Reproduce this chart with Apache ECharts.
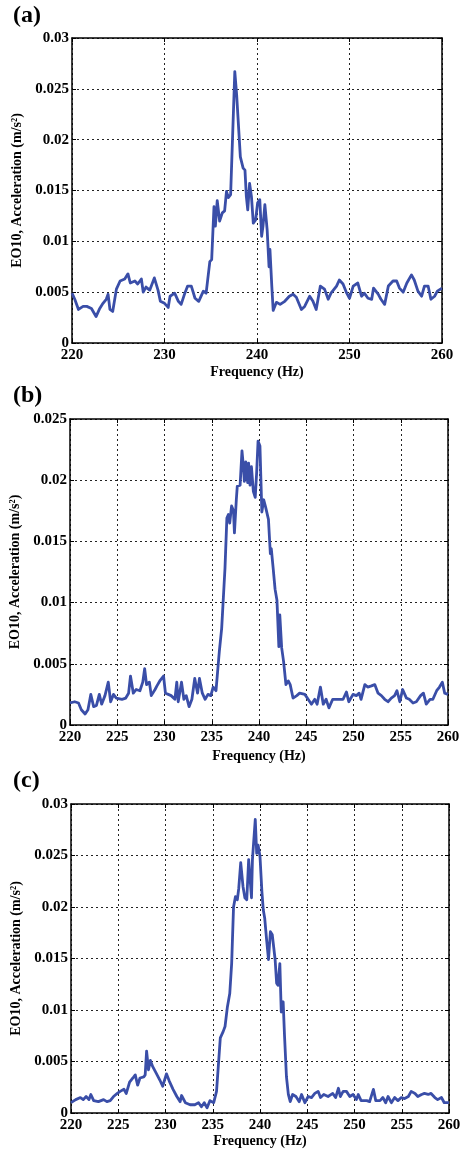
<!DOCTYPE html>
<html>
<head>
<meta charset="utf-8">
<script src="https://cdn.jsdelivr.net/npm/echarts@6/dist/echarts.min.js"></script>
<style>
html,body{margin:0;padding:0;background:#fff;}
#chart{width:465px;height:1153px;}
</style>
</head>
<body>
<div id="chart"></div>
<script>
// ---- Data ----
var freqA = [220.0,220.3,220.7,221.2,221.6,222.1,222.6,223.0,223.35,223.7,223.9,224.1,224.4,224.8,225.2,225.7,226.05,226.3,226.8,227.1,227.5,227.7,228.0,228.4,228.9,229.3,229.55,230.0,230.4,230.6,231.1,231.5,231.8,232.2,232.5,232.9,233.3,233.7,234.2,234.5,234.9,235.1,235.35,235.5,235.7,235.96,236.25,236.5,236.7,236.9,237.15,237.35,237.6,237.8,238.0,238.2,238.5,238.7,238.85,239.0,239.2,239.4,239.6,239.85,240.07,240.3,240.5,240.65,240.85,241.1,241.3,241.4,241.6,241.75,242.1,242.5,243.0,243.5,243.9,244.25,244.8,245.15,245.7,246.05,246.4,246.85,247.3,247.7,248.0,248.6,248.9,249.3,249.7,250.0,250.4,250.9,251.3,251.6,252.0,252.4,252.6,253.1,253.4,253.8,254.2,254.7,255.1,255.4,255.8,256.2,256.7,257.0,257.4,257.8,258.1,258.5,258.8,259.2,259.5,260.0];
var accA = [0.0049,0.0043,0.0033,0.0036,0.0036,0.0034,0.0026,0.0034,0.0039,0.0043,0.0048,0.0033,0.0031,0.0053,0.0061,0.0063,0.0068,0.0059,0.0061,0.0058,0.0063,0.0050,0.0055,0.0052,0.0064,0.0052,0.0041,0.0039,0.0035,0.0046,0.0049,0.0041,0.0038,0.0049,0.0056,0.0056,0.0044,0.0041,0.0051,0.0049,0.0080,0.0082,0.0134,0.0115,0.0140,0.0120,0.0128,0.0130,0.0149,0.0143,0.0146,0.0200,0.0267,0.0244,0.0245,0.0183,0.0172,0.0170,0.0144,0.0131,0.0157,0.0144,0.0118,0.0121,0.0138,0.0141,0.0105,0.0115,0.0136,0.0111,0.0075,0.0092,0.0056,0.0032,0.0040,0.0038,0.0041,0.0046,0.0048,0.0045,0.0033,0.0036,0.0046,0.0041,0.0033,0.0056,0.0053,0.0043,0.0049,0.0056,0.0062,0.0058,0.0049,0.0044,0.0056,0.0059,0.0046,0.0049,0.0044,0.0043,0.0054,0.0048,0.0043,0.0038,0.0056,0.0061,0.0061,0.0054,0.0050,0.0059,0.0067,0.0062,0.0051,0.0046,0.0056,0.0056,0.0043,0.0046,0.0051,0.0054];

var freqB = [220.0,220.5,220.9,221.2,221.6,221.9,222.2,222.5,222.8,223.1,223.35,223.7,224.05,224.3,224.6,224.9,225.5,225.9,226.2,226.4,226.7,227.0,227.4,227.7,227.9,228.1,228.4,228.6,229.0,229.2,229.5,229.9,230.1,230.4,230.7,231.1,231.3,231.45,231.8,232.05,232.3,232.6,232.9,233.2,233.5,233.7,234.0,234.3,234.6,234.9,235.15,235.45,235.8,236.05,236.3,236.4,236.6,236.76,236.9,237.1,237.3,237.4,237.6,237.7,238.0,238.2,238.35,238.45,238.6,238.8,238.9,239.05,239.2,239.4,239.6,239.75,239.9,240.1,240.3,240.5,240.7,241.0,241.2,241.3,241.5,241.7,241.9,242.1,242.2,242.4,242.6,242.85,243.1,243.3,243.6,244.0,244.3,244.85,245.2,245.55,245.9,246.15,246.5,246.8,247.1,247.4,247.8,248.4,248.9,249.25,249.5,249.95,250.3,250.6,250.8,251.2,251.5,251.9,252.25,252.6,252.95,253.3,253.65,254.0,254.35,254.6,254.9,255.2,255.6,255.9,256.3,256.65,257.1,257.4,257.7,258.1,258.4,258.8,259.1,259.4,259.65,260.0];
var accB = [0.0018,0.0019,0.0018,0.00125,0.0009,0.00125,0.0025,0.0015,0.0016,0.0025,0.0017,0.0024,0.0035,0.0019,0.0025,0.0022,0.0021,0.0022,0.0026,0.0040,0.0026,0.0029,0.0028,0.0035,0.0046,0.0033,0.0035,0.0024,0.0029,0.0032,0.0036,0.0040,0.0026,0.0025,0.0024,0.0021,0.0035,0.0019,0.0035,0.0021,0.0024,0.0015,0.0021,0.0038,0.0026,0.0038,0.0026,0.0021,0.0025,0.0024,0.0031,0.0028,0.0060,0.0079,0.0114,0.0128,0.0169,0.0172,0.0165,0.0179,0.0175,0.0157,0.0184,0.0195,0.0196,0.0224,0.0211,0.0199,0.0215,0.0198,0.0214,0.0196,0.0211,0.0191,0.0186,0.0206,0.0232,0.0228,0.0174,0.0184,0.0178,0.0168,0.0140,0.0144,0.0128,0.0111,0.0102,0.0064,0.0090,0.0063,0.0052,0.0033,0.0036,0.0033,0.0022,0.0024,0.0026,0.0025,0.0021,0.0017,0.0021,0.0017,0.0031,0.0017,0.0021,0.0014,0.0021,0.0021,0.0021,0.0027,0.0019,0.0025,0.0024,0.0026,0.0021,0.0033,0.0031,0.0032,0.0033,0.0026,0.0024,0.0021,0.0019,0.0022,0.0024,0.0028,0.0019,0.0029,0.0022,0.0021,0.0018,0.0019,0.0024,0.0026,0.0017,0.0021,0.0021,0.0028,0.0031,0.0035,0.0026,0.0025];

var freqC = [220.0,220.5,221.0,221.3,221.6,221.9,222.1,222.4,222.9,223.45,223.8,224.15,224.5,224.9,225.2,225.6,225.85,226.2,226.55,226.8,227.05,227.3,227.7,227.85,228.0,228.2,228.4,228.65,229.0,229.4,229.7,230.1,230.4,230.8,231.2,231.55,231.7,232.1,232.6,233.1,233.5,233.8,234.1,234.4,234.7,235.1,235.4,235.55,235.8,236.1,236.3,236.55,236.8,237.0,237.2,237.4,237.6,237.75,237.96,238.2,238.4,238.6,238.8,238.9,239.1,239.2,239.5,239.65,239.8,240.0,240.2,240.35,240.5,240.7,240.9,241.1,241.3,241.6,241.76,241.9,242.1,242.25,242.45,242.6,242.8,243.0,243.2,243.45,243.8,244.15,244.4,244.75,245.1,245.45,245.8,246.15,246.4,246.75,247.2,247.7,248.0,248.3,248.5,248.8,249.15,249.5,249.85,250.2,250.4,250.7,251.3,251.6,252.0,252.25,252.7,253.0,253.3,253.55,253.9,254.25,254.6,254.95,255.3,255.7,256.0,256.4,256.7,257.1,257.4,257.8,258.1,258.5,258.8,259.2,259.5,260.0];
var accC = [0.0010,0.0013,0.0015,0.0013,0.0016,0.0013,0.0018,0.0012,0.0011,0.0013,0.0011,0.0012,0.0016,0.0019,0.0021,0.0023,0.0019,0.0030,0.0034,0.0037,0.0027,0.0034,0.0035,0.0037,0.0060,0.0042,0.0051,0.0045,0.0039,0.0032,0.0026,0.0038,0.0031,0.0023,0.0016,0.0011,0.0017,0.0010,0.0008,0.0008,0.0010,0.0006,0.0010,0.0005,0.0012,0.0010,0.0021,0.0022,0.0073,0.0079,0.0084,0.0103,0.0116,0.0145,0.0200,0.0210,0.0207,0.0218,0.0243,0.0220,0.0209,0.0207,0.0246,0.0246,0.0209,0.0246,0.0285,0.0252,0.0260,0.0249,0.0215,0.0197,0.0189,0.0168,0.0149,0.0176,0.0173,0.0149,0.0126,0.0124,0.0145,0.0098,0.0108,0.0074,0.0035,0.0018,0.0011,0.0018,0.0016,0.0011,0.0018,0.0010,0.0016,0.0015,0.0019,0.0021,0.0015,0.0018,0.0016,0.0019,0.0015,0.0024,0.0016,0.0021,0.0021,0.0016,0.0018,0.0013,0.0018,0.0012,0.0012,0.0011,0.0023,0.0012,0.0012,0.0015,0.0010,0.0016,0.0010,0.0015,0.0012,0.0015,0.0014,0.0016,0.0021,0.0019,0.0016,0.0018,0.0019,0.0018,0.0019,0.0015,0.0013,0.0015,0.0010,0.0010];

var panelLabels = ['(a)', '(b)', '(c)'];
var yMaxes = [0.03, 0.025, 0.03];
var xIntervals = [10, 5, 5];
var xName = 'Frequency (Hz)';
var yName = 'EO10, Acceleration (m/s\u00B2)';

// ---- Layout / style ----
var FONT = '"Liberation Serif", "Times New Roman", serif';
var grids = [
  {left: 72, top: 38, width: 370, height: 305, nameGapX: 22, nameGapY: 46},
  {left: 70, top: 419, width: 378, height: 306, nameGapX: 24, nameGapY: 44},
  {left: 71, top: 804, width: 378, height: 309, nameGapX: 21, nameGapY: 45}
];
var labelY = [17, 397, 782];
var lineColor = '#3a4ea8';

function zip(xs, ys) { return xs.map(function (x, i) { return [x, ys[i]]; }); }
var seriesData = [zip(freqA, accA), zip(freqB, accB), zip(freqC, accC)];

var option = {
  backgroundColor: '#fff',
  animation: false,
  grid: [], xAxis: [], yAxis: [], series: [], graphic: []
};

grids.forEach(function (g, i) {
  option.grid.push({left: g.left, top: g.top, width: g.width, height: g.height, containLabel: false});
  var axLine = {show: true, onZero: false, lineStyle: {color: '#000', width: 1.5}};
  var tick = {show: true, inside: true, length: 4, lineStyle: {color: '#000', width: 1}};
  var split = {show: true, lineStyle: {color: '#222', width: 1, type: [2, 3]}};
  // bottom x axis
  option.xAxis.push({
    type: 'value', gridIndex: i, min: 220, max: 260, interval: xIntervals[i], position: 'bottom',
    axisLine: axLine, axisTick: tick, splitLine: split,
    axisLabel: {color: '#000', fontFamily: FONT, fontWeight: 'bold', fontSize: 15, margin: 5},
    name: xName, nameLocation: 'middle', nameGap: g.nameGapX,
    nameTextStyle: {color: '#000', fontFamily: FONT, fontWeight: 'bold', fontSize: 14}
  });
  // top x axis (frame + ticks)
  option.xAxis.push({
    type: 'value', gridIndex: i, min: 220, max: 260, interval: xIntervals[i], position: 'top',
    axisLine: axLine, axisTick: tick, splitLine: {show: false}, axisLabel: {show: false}
  });
  // left y axis
  option.yAxis.push({
    type: 'value', gridIndex: i, min: 0, max: yMaxes[i], interval: 0.005, position: 'left',
    axisLine: axLine, axisTick: tick, splitLine: split,
    axisLabel: {color: '#000', fontFamily: FONT, fontWeight: 'bold', fontSize: 15, margin: 3,
      formatter: function (v) { return String(+v.toFixed(3)); }},
    name: yName, nameLocation: 'middle', nameGap: g.nameGapY, nameRotate: 90,
    nameTextStyle: {color: '#000', fontFamily: FONT, fontWeight: 'bold', fontSize: 14}
  });
  // right y axis (frame + ticks)
  option.yAxis.push({
    type: 'value', gridIndex: i, min: 0, max: yMaxes[i], interval: 0.005, position: 'right',
    axisLine: axLine, axisTick: tick, splitLine: {show: false}, axisLabel: {show: false}
  });
  option.series.push({
    type: 'line', xAxisIndex: i * 2, yAxisIndex: i * 2, data: seriesData[i],
    showSymbol: false, symbol: 'none', smooth: false,
    lineStyle: {color: lineColor, width: 2.8, join: 'round'}, z: 5
  });
  option.graphic.push({
    type: 'text', left: 13, top: labelY[i] - 13,
    style: {text: panelLabels[i], fill: '#000', font: 'bold 24px ' + FONT}
  });
});

var chart = echarts.init(document.getElementById('chart'), null, {renderer: 'canvas'});
chart.setOption(option);
</script>
</body>
</html>
